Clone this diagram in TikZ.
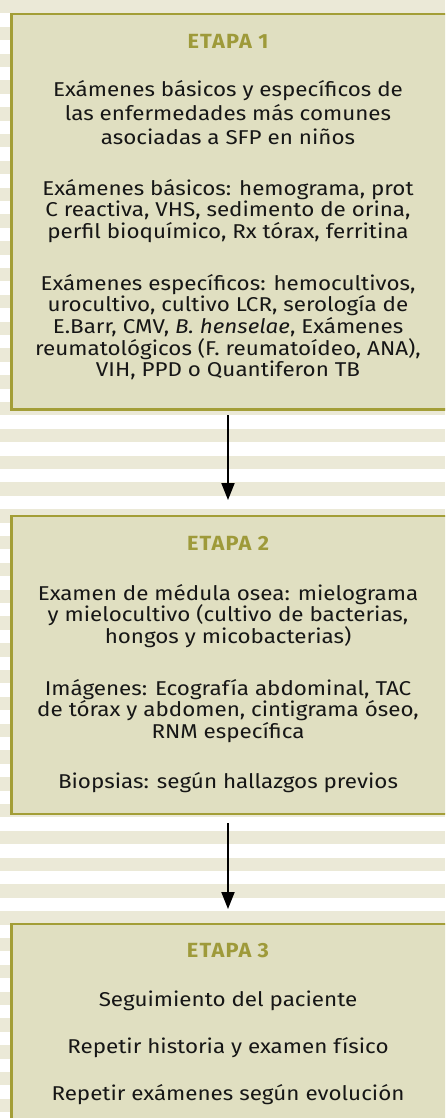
\documentclass[tikz,border=0pt]{standalone}
\usepackage{fontspec}
\setmainfont{Fira Sans}[FakeStretch=1.12]
\newfontfamily\titlefam{Fira Sans}[LetterSpace=6,FakeStretch=1.06]
\usetikzlibrary{arrows.meta}
\definecolor{stripe}{RGB}{235,233,215}
\definecolor{boxfill}{RGB}{224,223,193}
\definecolor{boxline}{RGB}{163,158,55}
\definecolor{titlecol}{RGB}{158,154,58}
\definecolor{ink}{RGB}{22,22,22}
\tikzset{
  stagebox/.style={draw=boxline, fill=boxfill, line width=2.5pt, outer sep=0pt, inner sep=0pt, anchor=north west, minimum width=460pt},
  txt/.style={anchor=base, inner sep=0pt, text=ink, font=\fontsize{20}{22}\selectfont},
  ttl/.style={anchor=base, inner sep=0pt, text=titlecol, font=\titlefam\bfseries\fontsize{20.5}{22}\selectfont},
  flow/.style={draw=black, line width=2pt, -{Triangle[width=13pt,length=17pt]}}
}
\begin{document}
\begin{tikzpicture}[x=1pt,y=-1pt]
\path[use as bounding box] (0,0) rectangle (445,1118);
\clip (0,0) rectangle (445,1118);
\foreach \k in {0,...,41} \fill[stripe] (0,{26.8*\k}) rectangle (445,{26.8*\k+13.4});

\node[stagebox, minimum height=395.75pt] (stage1) at (11.35,13.85) {};
\node[stagebox, minimum height=298pt] (stage2) at (11.35,515.8) {};
\node[stagebox, minimum height=240pt] (stage3) at (11.35,924) {};

\coordinate (ax) at (228,0);
\draw[flow, shorten <=5.5pt, shorten >=15.8pt] (stage1.south -| ax) -- (stage2.north -| ax);
\draw[flow, shorten <=9.5pt, shorten >=15pt] (stage2.south -| ax) -- (stage3.north -| ax);

% Etapa 1
\node[ttl] (t1) at (228,48.3) {ETAPA 1};
\node[txt] (a1) at (228,96.7) {Exámenes básicos y específicos de};
\node[txt] (a2) at (228,121) {las enfermedades más comunes};
\node[txt] (a3) at (228,145) {asociadas a SFP en niños};
\node[txt] (b1) at (228,195) {Exámenes básicos: hemograma, prot};
\node[txt] (b2) at (228,216.7) {C reactiva, VHS, sedimento de orina,};
\node[txt] (b3) at (228,238.3) {perfil bioquímico, Rx tórax, ferritina};
\node[txt] (c1) at (228,290) {Exámenes específicos: hemocultivos,};
\node[txt] (c2) at (228,311.7) {urocultivo, cultivo LCR, serología de};
\node[txt] (c3) at (228,333.3) {E.Barr, CMV, \textit{B. henselae}, Exámenes};
\node[txt] (c4) at (228,355) {reumatológicos (F. reumatoídeo, ANA),};
\node[txt] (c5) at (228,376.7) {VIH, PPD o Quantiferon TB};

% Etapa 2
\node[ttl] (t2) at (228,550.7) {ETAPA 2};
\node[txt] (d1) at (228,600) {Examen de médula osea: mielograma};
\node[txt] (d2) at (228,621.7) {y mielocultivo (cultivo de bacterias,};
\node[txt] (d3) at (228,643) {hongos y micobacterias)};
\node[txt] (f1) at (228,695) {Imágenes: Ecografía abdominal, TAC};
\node[txt] (f2) at (228,716.7) {de tórax y abdomen, cintigrama óseo,};
\node[txt] (f3) at (228,738) {RNM específica};
\node[txt] (g1) at (228,788) {Biopsias: según hallazgos previos};

% Etapa 3
\node[ttl] (t3) at (228,957.3) {ETAPA 3};
\node[txt] (h1) at (228,1006.7) {Seguimiento del paciente};
\node[txt] (h2) at (228,1053.3) {Repetir historia y examen físico};
\node[txt] (h3) at (228,1100) {Repetir exámenes según evolución};
\end{tikzpicture}
\end{document}
